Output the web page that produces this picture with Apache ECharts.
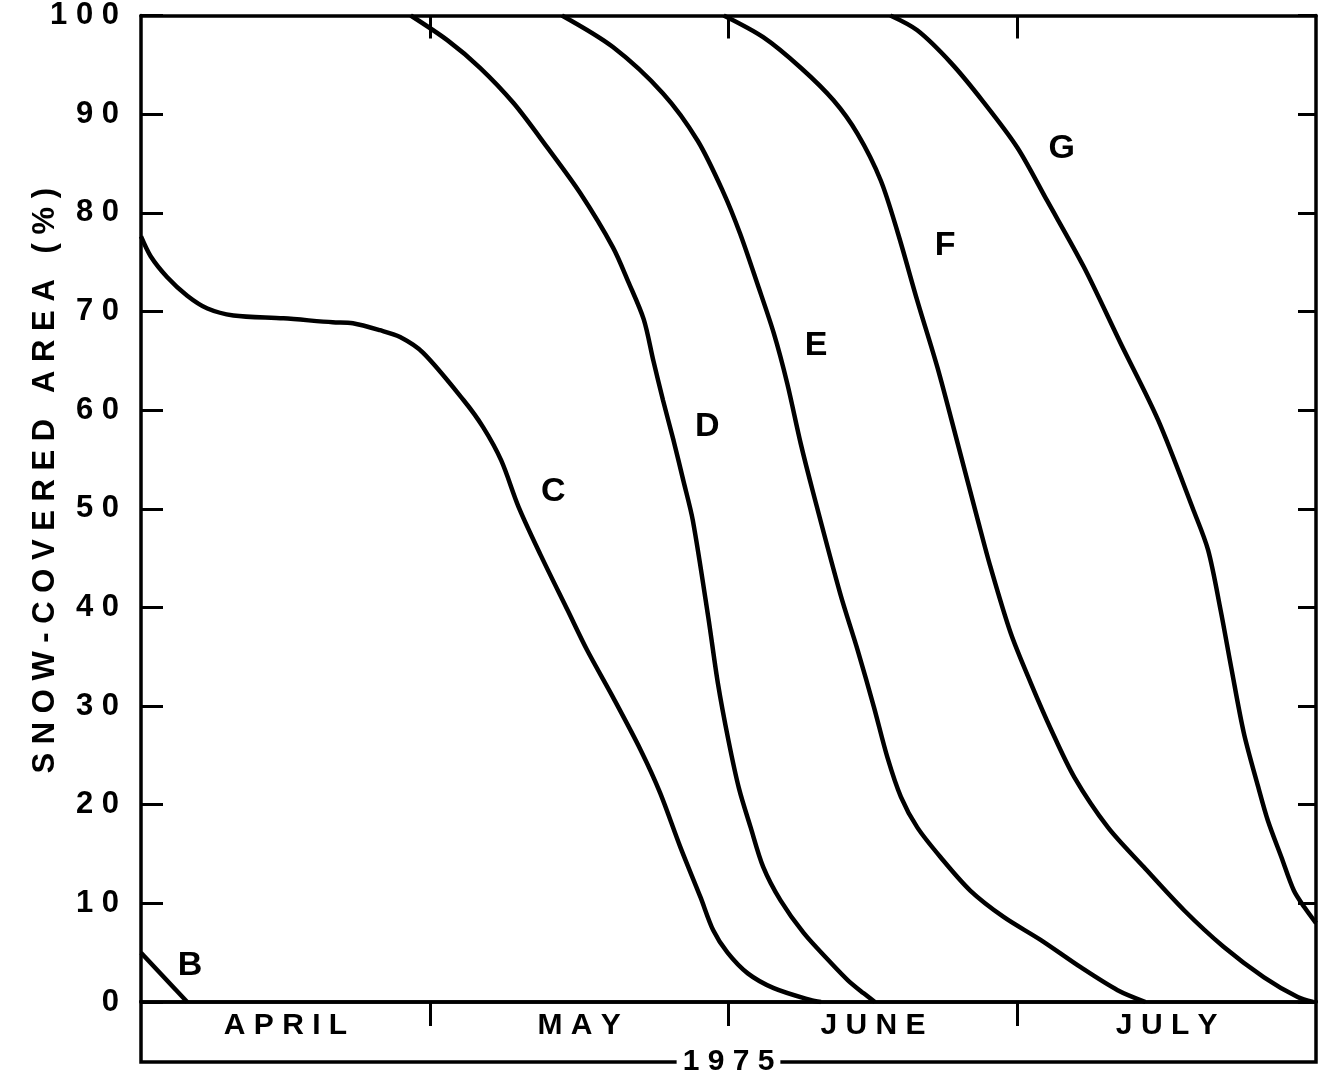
<!DOCTYPE html>
<html><head><meta charset="utf-8">
<script src="https://cdn.jsdelivr.net/npm/echarts@6/dist/echarts.min.js"></script>
<style>html,body{margin:0;padding:0;background:#fff}#c{width:1325px;height:1081px}</style>
</head><body><div id="c"></div>
<script>
// ---- data (x = days since 1 April 1975, y = snow-covered area %) ----
const months = ['APRIL', 'MAY', 'JUNE', 'JULY'];
const monthStartDays = [0, 30, 61, 91, 122];
const yearLabel = '1975';
const yAxisTitle = 'SNOW-COVERED AREA (%)';

const curveNames = ['B', 'C', 'D', 'E', 'F', 'G'];
const curveB = [[0, 5.0], [4.8, 0]];
const curveC = [[0, 77.6], [1.0, 75.6], [2.7, 73.5], [4.8, 71.6], [6.9, 70.3], [9.6, 69.6], [14.8, 69.3],
  [19.9, 68.9], [22.0, 68.8], [24.8, 68.1], [26.9, 67.4], [29.3, 65.8], [33.5, 61.0], [35.5, 58.3],
  [37.4, 54.9], [39.2, 50.2], [41.5, 45.3], [44.3, 39.7], [46.3, 35.7], [49.0, 30.9], [51.9, 25.5], [53.9, 21.2],
  [56.0, 15.7], [58.1, 10.6], [59.4, 7.3], [60.9, 5.0], [63.0, 2.9], [65.7, 1.4], [69.5, 0.2], [70.6, 0]];
const curveD = [[28.0, 100], [31.8, 97.5], [35.2, 94.7], [38.7, 91.1], [42.2, 86.6], [45.6, 82.0],
  [49.0, 76.5], [50.6, 73.0], [52.2, 69.2], [53.2, 65.0], [54.2, 61.0], [55.3, 56.9],
  [56.3, 52.9], [57.3, 48.8], [58.9, 39.0], [59.9, 32.3], [61.0, 26.5], [62.1, 21.6],
  [63.3, 17.7], [64.6, 13.7], [66.4, 10.3], [68.8, 7.0], [71.6, 4.0], [73.4, 2.2], [75.0, 0.9], [76.2, 0]];
const curveE = [[43.7, 100], [49.0, 96.8], [54.2, 92.1], [57.8, 87.3], [60.5, 82.0], [62.2, 77.9],
  [64.0, 72.8], [65.7, 67.8], [67.1, 62.7], [68.5, 56.6], [69.8, 51.6],
  [72.6, 41.4], [74.4, 35.7], [76.1, 29.9], [77.5, 24.8], [78.9, 20.8], [80.6, 17.7], [83.0, 14.7],
  [86.1, 11.3], [89.6, 8.6], [93.4, 6.3], [97.6, 3.5], [101.4, 1.2], [104.3, 0]];
const curveF = [[60.5, 100], [64.6, 97.8], [68.5, 94.7], [71.9, 91.4], [74.4, 88.0], [76.8, 83.3],
  [78.6, 77.9], [80.6, 71.1], [82.7, 64.3], [84.8, 56.6], [86.9, 48.8], [88.2, 44.1], [90.3, 37.4],
  [92.4, 32.3], [94.5, 27.6], [96.9, 22.8], [100.4, 17.7], [104.1, 13.7], [108.3, 9.3], [112.4, 5.6],
  [116.6, 2.5], [120.1, 0.5], [121.7, 0]];
const curveG = [[77.8, 100], [80.6, 98.5], [84.1, 95.2], [87.5, 91.2], [91.0, 86.6], [94.1, 81.2], [97.9, 74.5],
  [101.7, 66.8], [105.6, 59.0], [109.3, 49.8], [110.8, 45.8], [112.1, 39.7], [113.2, 33.9],
  [114.5, 27.3], [116.0, 21.8], [117.0, 18.4], [118.4, 14.7], [119.7, 11.3], [120.8, 9.6], [122, 8.0]];
const curves = [curveB, curveC, curveD, curveE, curveF, curveG];

// curve label anchor positions (day, %)
const labelDays = [5.1, 42.8, 58.8, 70.1, 83.5, 95.6];
const labelValues = [3.7, 51.7, 58.3, 66.5, 76.7, 86.5];

// ---- presentation ----
const FONT = '"Liberation Sans", Arial, sans-serif';
const spaced = s => String(s).split('').join(' ');
const monthMids = months.map((m, i) => (monthStartDays[i] + monthStartDays[i + 1]) / 2);
const monthTicks = monthStartDays.slice(1, -1);
const AX = 3.5;

const chart = echarts.init(document.getElementById('c'), null, {renderer: 'canvas'});
const option = {
  animation: false,
  backgroundColor: '#fff',
  grid: [
    {left: 141, right: 9, top: 15, bottom: 79, show: false},
    {left: 141, right: 9, top: 1002, bottom: 19, show: true, borderColor: '#000', borderWidth: AX, backgroundColor: 'transparent'}
  ],
  xAxis: [
    {
      type: 'value', gridIndex: 0, position: 'bottom', min: monthStartDays[0], max: monthStartDays[monthStartDays.length - 1],
      splitLine: {show: false},
      axisLine: {show: true, onZero: false, lineStyle: {color: '#000', width: AX}},
      axisTick: {show: true, inside: false, length: 24, customValues: monthTicks, lineStyle: {color: '#000', width: 3}},
      axisLabel: {
        show: true, customValues: monthMids, margin: 9,
        formatter: v => { const i = monthMids.indexOf(v); return i >= 0 ? spaced(months[i]) : ''; },
        color: '#000', fontFamily: FONT, fontWeight: 'bold', fontSize: 30
      }
    },
    {
      type: 'value', gridIndex: 0, position: 'top', min: monthStartDays[0], max: monthStartDays[monthStartDays.length - 1],
      splitLine: {show: false},
      axisLine: {show: true, onZero: false, lineStyle: {color: '#000', width: AX}},
      axisTick: {show: true, inside: true, length: 23, customValues: monthTicks, lineStyle: {color: '#000', width: 3}},
      axisLabel: {show: false}
    },
    {
      type: 'value', gridIndex: 1, position: 'bottom', min: 0, max: 1,
      splitLine: {show: false}, axisLine: {show: false}, axisTick: {show: false}, axisLabel: {show: false},
      name: spaced(yearLabel), nameLocation: 'middle', nameGap: 0, nameMoveOverlap: false,
      nameTextStyle: {color: '#000', fontFamily: FONT, fontWeight: 'bold', fontSize: 30,
        verticalAlign: 'middle', backgroundColor: '#fff', padding: [2, 6, 2, 6]}
    }
  ],
  yAxis: [
    {
      type: 'value', gridIndex: 0, position: 'left', min: 0, max: 100, interval: 10,
      splitLine: {show: false},
      axisLine: {show: true, onZero: false, lineStyle: {color: '#000', width: AX}},
      axisTick: {show: true, inside: true, length: 22, lineStyle: {color: '#000', width: 3}},
      axisLabel: {show: true, margin: 22, formatter: v => spaced(v), color: '#000',
        fontFamily: FONT, fontWeight: 'bold', fontSize: 31},
      name: spaced(yAxisTitle), nameLocation: 'middle', nameRotate: 90, nameGap: 80, nameMoveOverlap: false,
      nameTextStyle: {color: '#000', fontFamily: FONT, fontWeight: 'bold', fontSize: 31, padding: [0, 0, 0, 56]}
    },
    {
      type: 'value', gridIndex: 0, position: 'right', min: 0, max: 100, interval: 10,
      splitLine: {show: false},
      axisLine: {show: true, onZero: false, lineStyle: {color: '#000', width: AX}},
      axisTick: {show: true, inside: true, length: 18, lineStyle: {color: '#000', width: 3}},
      axisLabel: {show: false}
    },
    {
      type: 'value', gridIndex: 1, min: 0, max: 1, show: true,
      splitLine: {show: false}, axisLine: {show: false}, axisTick: {show: false}, axisLabel: {show: false}
    }
  ],
  series: curves.map((data, i) => ({
    name: curveNames[i], type: 'line', xAxisIndex: 0, yAxisIndex: 0,
    data: data, showSymbol: false, symbol: 'none', smooth: 0.3,
    lineStyle: {color: '#000', width: 4.5}, silent: true, clip: true, z: 3
  })).concat([{
    type: 'scatter', xAxisIndex: 0, yAxisIndex: 0, silent: true, symbolSize: 1,
    itemStyle: {color: 'rgba(0,0,0,0)', opacity: 1},
    data: labelDays.map((d, i) => [d, labelValues[i], curveNames[i]]),
    label: {show: true, position: 'inside', formatter: p => p.data[2], color: '#000', opacity: 1,
      fontFamily: FONT, fontWeight: 'bold', fontSize: 34}
  }])
};
chart.setOption(option);
</script>
</body></html>
